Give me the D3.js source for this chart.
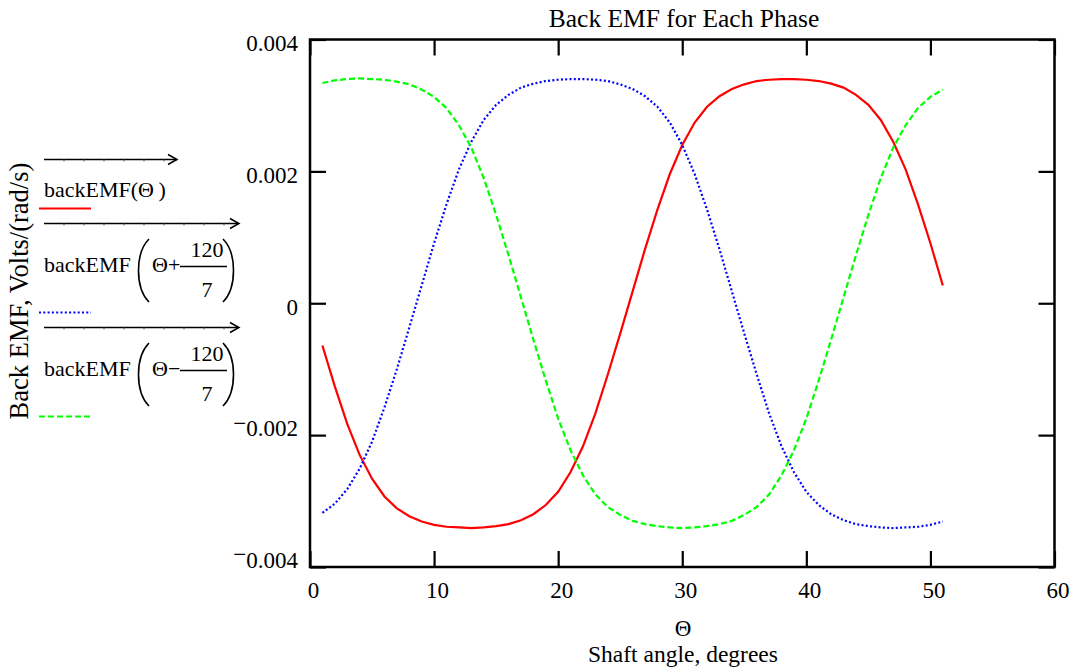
<!DOCTYPE html>
<html>
<meta charset="UTF-8" />
<script src="https://cdn.jsdelivr.net/npm/d3@7/dist/d3.min.js"></script>
<style>
*{margin:0; padding:0;}
body{background:#ffffff;}
text{font-family:"Liberation Serif","Times New Roman",serif; fill:#000;}
</style>
<body>
<div id="chart"></div>
<script type="text/javascript">
// shaft angle samples, degrees
var theta = [1,2,3,4,5,6,7,8,9,10,11,12,13,14,15,16,17,18,19,20,21,22,23,24,25,26,
	27,28,29,30,31,32,33,34,35,36,37,38,39,40,41,42,43,44,45,46,47,48,49,50,51];

// backEMF(theta)
var emfA = [-0.00064,-0.00126,-0.00183,-0.00230,-0.00266,-0.00293,-0.00311,-0.00323,-0.00331,-0.00336,
	-0.00339,-0.00340,-0.00341,-0.00340,-0.00338,-0.00335,-0.00329,-0.00320,-0.00306,-0.00286,
	-0.00256,-0.00217,-0.00167,-0.00108,-0.00046,0.00018,0.00082,0.00142,0.00196,0.00240,
	0.00274,0.00298,0.00314,0.00325,0.00332,0.00337,0.00339,0.00340,0.00340,0.00339,
	0.00337,0.00333,0.00327,0.00316,0.00301,0.00278,0.00245,0.00203,0.00150,0.00091,0.00027];

// backEMF(theta + 120/7)
var emfB = [-0.00318,-0.00304,-0.00282,-0.00251,-0.00210,-0.00158,-0.00100,-0.00037,0.00027,0.00091,
	0.00150,0.00203,0.00245,0.00278,0.00301,0.00316,0.00327,0.00333,0.00337,0.00339,
	0.00340,0.00340,0.00339,0.00337,0.00332,0.00325,0.00314,0.00298,0.00274,0.00240,
	0.00196,0.00142,0.00082,0.00018,-0.00046,-0.00108,-0.00167,-0.00217,-0.00256,-0.00286,
	-0.00306,-0.00320,-0.00329,-0.00335,-0.00338,-0.00340,-0.00341,-0.00340,-0.00339,-0.00336,-0.00331];

// backEMF(theta - 120/7)
var emfC = [0.00334,0.00338,0.00340,0.00341,0.00340,0.00339,0.00336,0.00332,0.00324,0.00313,
	0.00296,0.00270,0.00236,0.00190,0.00134,0.00073,0.00009,-0.00055,-0.00117,-0.00175,
	-0.00223,-0.00261,-0.00290,-0.00309,-0.00321,-0.00330,-0.00335,-0.00338,-0.00340,-0.00341,
	-0.00340,-0.00338,-0.00335,-0.00330,-0.00321,-0.00309,-0.00290,-0.00261,-0.00223,-0.00175,
	-0.00117,-0.00055,0.00009,0.00073,0.00134,0.00190,0.00236,0.00270,0.00296,0.00313,0.00324];

var xTicks = [0,10,20,30,40,50,60];
var yTicks = [-0.004,-0.002,0,0.002,0.004];

var width = 1074;
var height = 670;
var svg = d3.select("#chart")
.append("svg")
.attr("width", width)
.attr("height", height);

var x = d3.scaleLinear().domain([0,60]).range([310,1054.5]);
var y = d3.scaleLinear().domain([-0.004,0.004]).range([567,39.5]);

//ticks, all pointing inward
var gb = svg.append("g").attr("transform","translate(0,"+y(-0.004)+")")
.call(d3.axisBottom(x).tickValues(xTicks).tickSizeInner(-16).tickSizeOuter(0).tickPadding(15));
gb.selectAll(".tick text").attr("x",3);

var gt = svg.append("g").attr("transform","translate(0,"+y(0.004)+")")
.call(d3.axisTop(x).tickValues(xTicks).tickSizeInner(-16).tickSizeOuter(0).tickFormat(""));

var gl = svg.append("g").attr("transform","translate("+x(0)+",0)")
.call(d3.axisLeft(y).tickValues(yTicks).tickSizeInner(-16).tickSizeOuter(0).tickPadding(12));
gl.selectAll(".tick text").attr("dy","0.48em").each(function(d){
	var t = d3.select(this);
	t.text(null);
	if(d<0){
		t.append("tspan").attr("dy","-0.22em").text("\u2212");
		t.append("tspan").attr("dy","0.22em").text(Math.abs(d).toFixed(3));
	}
	else t.append("tspan").text(d==0 ? "0" : d.toFixed(3));
});

var gr = svg.append("g").attr("transform","translate("+x(60)+",0)")
.call(d3.axisRight(y).tickValues(yTicks).tickSizeInner(-16).tickSizeOuter(0).tickFormat(""));

svg.selectAll(".domain").remove();
svg.selectAll(".tick line").style("stroke","#000").style("stroke-width",2.2);
svg.selectAll(".tick text").style("font-family","'Liberation Serif',serif").style("font-size","23px").style("fill","#000");

//frame
svg.append("rect")
.attr("x",x(0)).attr("y",y(0.004))
.attr("width",x(60)-x(0)).attr("height",y(-0.004)-y(0.004))
.attr("fill","none").style("stroke","#000").style("stroke-width",2.5);

//curves
var line = d3.line()
.x(function(d,i){ return x(theta[i]); })
.y(function(d){ return y(d); });

svg.append("path").datum(emfA).attr("d",line)
.attr("fill","none").style("stroke","#ff0000").style("stroke-width",2.2);
svg.append("path").datum(emfB).attr("d",line)
.attr("fill","none").style("stroke","#0000ff").style("stroke-width",2.2).style("stroke-dasharray","2,2.3");
svg.append("path").datum(emfC).attr("d",line)
.attr("fill","none").style("stroke","#00ff00").style("stroke-width",2.2).style("stroke-dasharray","6,3");

//titles
svg.append("text").attr("x",684).attr("y",27).attr("text-anchor","middle")
.style("font-size","25.5px").text("Back EMF for Each Phase");
svg.append("text").attr("x",683).attr("y",636).attr("text-anchor","middle")
.style("font-size","23px").text("\u0398");
svg.append("text").attr("x",683).attr("y",662).attr("text-anchor","middle")
.style("font-size","23.5px").text("Shaft angle, degrees");
svg.append("text").attr("transform","translate(28,291) rotate(-90)").attr("text-anchor","middle")
.style("font-size","26.5px").text("Back EMF, Volts/(rad/s)");

//legend
function overarrow(x1,x2,yy)
{
	svg.append("line").attr("x1",x1).attr("y1",yy).attr("x2",x2).attr("y2",yy)
	.style("stroke","#000").style("stroke-width",1.5);
	for(var k=x1+20;k<x2-10;k+=20){
		svg.append("line").attr("x1",k).attr("x2",k).attr("y1",yy).attr("y2",yy+2)
		.style("stroke","#555").style("stroke-width",1);
	}
	svg.append("path").attr("d","M"+(x2-9)+","+(yy-5)+"L"+x2+","+yy+"L"+(x2-9)+","+(yy+5))
	.attr("fill","none").style("stroke","#000").style("stroke-width",1.5);
}
function paren(xx,top,bot,dir)
{
	var w = 13*dir;
	svg.append("path")
	.attr("d","M"+(xx+w)+","+top+" C"+(xx-1*dir)+","+(top+14)+" "+(xx-1*dir)+","+(bot-14)+" "+(xx+w)+","+bot)
	.attr("fill","none").style("stroke","#000").style("stroke-width",1.6);
}
function fraction(yb,sign)
{
	svg.append("text").attr("x",44).attr("y",yb).style("font-size","22px").text("backEMF");
	paren(136,yb-33,yb+30,1);
	paren(236,yb-33,yb+30,-1);
	svg.append("text").attr("x",152).attr("y",yb).style("font-size","22px").text("\u0398"+sign);
	svg.append("line").attr("x1",180).attr("x2",227).attr("y1",yb-5.5).attr("y2",yb-5.5)
	.style("stroke","#000").style("stroke-width",1.5);
	svg.append("text").attr("x",207).attr("y",yb-15).attr("text-anchor","middle").style("font-size","22px").text("120");
	svg.append("text").attr("x",207).attr("y",yb+25).attr("text-anchor","middle").style("font-size","22px").text("7");
}

overarrow(44,177,159.5);
svg.append("text").attr("x",44).attr("y",197).style("font-size","22px").text("backEMF(\u0398\u2009)");
svg.append("line").attr("x1",39).attr("x2",91).attr("y1",208.5).attr("y2",208.5)
.style("stroke","#ff0000").style("stroke-width",2.2);

overarrow(44,239,223.5);
fraction(272,"+");
svg.append("line").attr("x1",39).attr("x2",91).attr("y1",312.5).attr("y2",312.5)
.style("stroke","#0000ff").style("stroke-width",2.2).style("stroke-dasharray","2,2.3");

overarrow(44,239,327.5);
fraction(376,"\u2212");
svg.append("line").attr("x1",39).attr("x2",91).attr("y1",416.5).attr("y2",416.5)
.style("stroke","#00ff00").style("stroke-width",2.2).style("stroke-dasharray","6,3");
</script>
</body>
</html>
